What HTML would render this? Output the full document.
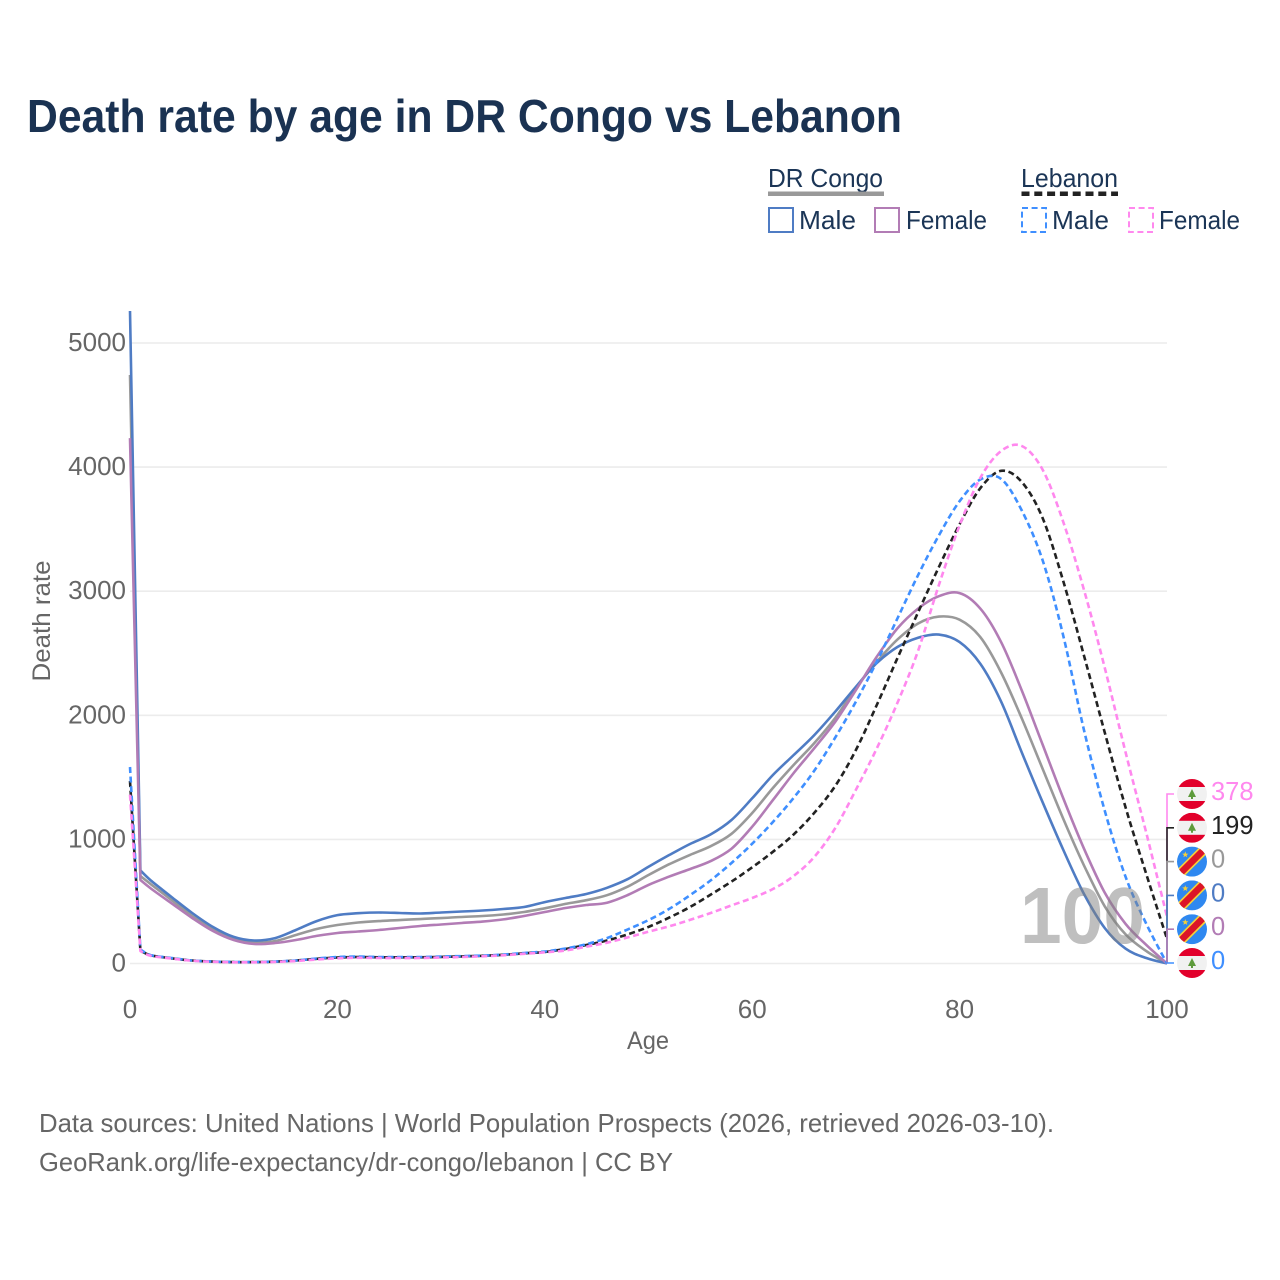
<!DOCTYPE html>
<html lang="en">
<head>
<meta charset="utf-8">
<title>Death rate by age in DR Congo vs Lebanon</title>
<style>
html,body{margin:0;padding:0;background:#fff;}
svg{display:block;font-family:"Liberation Sans",Arial,sans-serif;}
</style>
</head>
<body>
<svg id="chart" xmlns="http://www.w3.org/2000/svg" width="1280" height="1280" viewBox="0 0 1280 1280">
  <defs>
    <clipPath id="flag-clip"><circle cx="0" cy="0" r="15"/></clipPath>
    <g id="flag-lebanon" clip-path="url(#flag-clip)">
      <rect x="-15" y="-15" width="30" height="30" fill="#f1f1f1"/>
      <rect x="-15" y="-15" width="30" height="8" fill="#e2002b"/>
      <rect x="-15" y="7" width="30" height="8" fill="#e2002b"/>
      <path d="M0,-5 L4,3 L1,3 L1,5 L-1,5 L-1,3 L-4,3 Z" fill="#5e9b3c"/>
    </g>
    <g id="flag-congo" clip-path="url(#flag-clip)">
      <rect x="-15" y="-15" width="30" height="30" fill="#2f88f0"/>
      <path d="M-20,13 L13,-20 L20,-13 L-13,20 Z" fill="#f7d038"/>
      <path d="M-18,13.3 L13.3,-18 L18,-13.3 L-13.3,18 Z" fill="#dc1528"/>
      <path d="M-6.7,-10.2 L-5.9,-8 L-3.6,-7.9 L-5.4,-6.5 L-4.8,-4.3 L-6.7,-5.6 L-8.6,-4.3 L-8,-6.5 L-9.8,-7.9 L-7.5,-8 Z" fill="#f7d038"/>
    </g>
  </defs>

  <text x="27" y="132" font-size="46" font-weight="700" fill="#1a3252" textLength="875" lengthAdjust="spacingAndGlyphs">Death rate by age in DR Congo vs Lebanon</text>

  <g font-size="26" fill="#1b3556">
    <text x="768" y="187" textLength="115" lengthAdjust="spacingAndGlyphs">DR Congo</text>
    <rect x="768" y="191.5" width="116" height="4.5" fill="#999"/>
    <text x="1021" y="187" textLength="97" lengthAdjust="spacingAndGlyphs">Lebanon</text>
    <line x1="1021.5" y1="193.7" x2="1118" y2="193.7" stroke="#222" stroke-width="4.5" stroke-dasharray="8,4.8"/>

    <rect x="769" y="208" width="24" height="24" fill="none" stroke="#4f7cc4" stroke-width="2"/>
    <text x="799" y="229" textLength="57" lengthAdjust="spacingAndGlyphs">Male</text>
    <rect x="875" y="208" width="24" height="24" fill="none" stroke="#b27cb5" stroke-width="2"/>
    <text x="906" y="229" textLength="81" lengthAdjust="spacingAndGlyphs">Female</text>
    <rect x="1022" y="208" width="24" height="24" fill="none" stroke="#3f8fff" stroke-width="2" stroke-dasharray="6,3.6"/>
    <text x="1052" y="229" textLength="57" lengthAdjust="spacingAndGlyphs">Male</text>
    <rect x="1129" y="208" width="24" height="24" fill="none" stroke="#ff88ee" stroke-width="2" stroke-dasharray="6,3.6"/>
    <text x="1159" y="229" textLength="81" lengthAdjust="spacingAndGlyphs">Female</text>
  </g>

  <g id="grid"></g>
  <g id="y-axis"></g>
  <g id="x-axis"></g>
  <g id="series"></g>
  <g id="end-labels"></g>

  <text x="648" y="1049" font-size="25" fill="#666" text-anchor="middle" textLength="42" lengthAdjust="spacingAndGlyphs">Age</text>
  <text transform="translate(50,621) rotate(-90)" font-size="25" fill="#666" text-anchor="middle" textLength="121" lengthAdjust="spacingAndGlyphs">Death rate</text>

  <text x="1020" y="943" font-size="80" font-weight="700" fill="#808080" fill-opacity="0.5" textLength="125" lengthAdjust="spacingAndGlyphs">100</text>

  <text x="39" y="1132" font-size="26" fill="#666" textLength="1015" lengthAdjust="spacingAndGlyphs">Data sources: United Nations | World Population Prospects (2026, retrieved 2026-03-10).</text>
  <text x="39" y="1171" font-size="26" fill="#666" textLength="634" lengthAdjust="spacingAndGlyphs">GeoRank.org/life-expectancy/dr-congo/lebanon | CC BY</text>
</svg>

<script>
const ages = [0,1,2,4,6,8,10,12,14,16,18,20,22,24,26,28,30,32,34,36,38,40,42,44,46,48,50,52,54,56,58,60,62,64,66,68,70,72,74,76,78,80,82,84,86,88,90,92,94,96,98,100];

const congoBoth = [4742,705,640,512,383,278,205,169,181,230,278,310,330,342,350,358,366,375,383,395,415,445,480,510,550,620,713,800,875,945,1045,1213,1414,1600,1777,1978,2220,2430,2610,2740,2795,2770,2630,2345,1975,1570,1165,790,460,235,100,0];
const congoMale = [5258,750,670,536,407,294,214,185,205,270,342,390,405,411,407,403,411,419,427,439,455,495,528,560,610,680,780,874,963,1040,1156,1331,1519,1680,1841,2029,2230,2420,2550,2625,2650,2590,2415,2110,1700,1300,915,560,285,120,44,0];
const congoFemale = [4234,673,605,485,367,262,189,157,165,189,222,246,258,270,286,302,314,326,338,355,383,415,447,471,490,552,633,700,761,825,925,1102,1317,1535,1736,1948,2204,2470,2700,2860,2960,2985,2860,2590,2200,1765,1330,925,570,320,150,0];
const lebanonBoth = [1470,105,66,42,24,15,11,11,15,24,38,48,52,50,50,50,53,57,62,70,82,93,117,149,185,235,295,370,455,555,660,775,900,1040,1215,1430,1720,2080,2460,2830,3195,3540,3830,3970,3880,3590,3080,2480,1860,1260,720,199];
const lebanonMale = [1583,113,68,44,24,16,12,12,16,24,40,52,56,52,52,52,56,60,64,72,85,97,121,155,205,275,350,440,550,670,810,965,1140,1335,1555,1820,2110,2430,2780,3130,3450,3725,3900,3905,3650,3250,2640,1880,1230,700,320,0];
const lebanonFemale = [1360,100,62,40,22,14,10,10,13,20,32,42,46,44,44,44,48,52,58,66,78,90,105,135,168,210,256,300,351,407,468,528,600,705,860,1090,1400,1730,2100,2520,3050,3530,3913,4130,4170,3980,3557,3010,2381,1704,1052,378];

const xTicks = [0,20,40,60,80,100];
const yTicks = [0,1000,2000,3000,4000,5000];
const endLabelOrder = ['lebanonFemale','lebanonBoth','congoBoth','congoMale','congoFemale','lebanonMale'];

const NS = 'http://www.w3.org/2000/svg';
const x = age => 130 + age * 10.37;
const y = value => 963.5 - value * 0.1241;

function make(tag, attrs, parent, text) {
  const el = document.createElementNS(NS, tag);
  for (const k in attrs) el.setAttribute(k, attrs[k]);
  if (text !== undefined) el.textContent = text;
  parent.appendChild(el);
  return el;
}

const gridG = document.getElementById('grid');
const yAxisG = document.getElementById('y-axis');
const xAxisG = document.getElementById('x-axis');
const seriesG = document.getElementById('series');
const endG = document.getElementById('end-labels');

yTicks.forEach(v => {
  const line = make('line', {x1: x(0), x2: x(100), y1: y(v), y2: y(v), stroke: '#ececec', 'stroke-width': 1.6}, gridG);
  
  
  const label = make('text', {x: 126, y: y(v) + 8, 'font-size': 26, fill: '#666', 'text-anchor': 'end'}, yAxisG, String(v));
  
  
});

xTicks.forEach(a => {
  const label = make('text', {x: x(a), y: 1018, 'font-size': 26, fill: '#666', 'text-anchor': 'middle'}, xAxisG, String(a));
  
  
});

function pathFor(values) {
  const pts = values.map((v, i) => [x(ages[i]), y(v)]);
  let d = 'M' + pts[0][0].toFixed(1) + ',' + pts[0][1].toFixed(1) + ' L' + pts[1][0].toFixed(1) + ',' + pts[1][1].toFixed(1);
  for (let i = 1; i < pts.length - 1; i++) {
    const p0 = pts[Math.max(1, i - 1)], p1 = pts[i], p2 = pts[i + 1], p3 = pts[Math.min(pts.length - 1, i + 2)];
    const c1 = [p1[0] + (p2[0] - p0[0]) / 6, p1[1] + (p2[1] - p0[1]) / 6];
    const c2 = [p2[0] - (p3[0] - p1[0]) / 6, p2[1] - (p3[1] - p1[1]) / 6];
    d += ' C' + c1[0].toFixed(1) + ',' + c1[1].toFixed(1) + ' ' + c2[0].toFixed(1) + ',' + c2[1].toFixed(1) + ' ' + p2[0].toFixed(1) + ',' + p2[1].toFixed(1);
  }
  return d;
}

const seriesInfo = {
  congoBoth: {values: congoBoth, color: '#999999', text: '#999999', dash: null, flag: '#flag-congo'},
  congoMale: {values: congoMale, color: '#4f7cc4', text: '#4f7cc4', dash: null, flag: '#flag-congo'},
  congoFemale: {values: congoFemale, color: '#b27cb5', text: '#b27cb5', dash: null, flag: '#flag-congo'},
  lebanonBoth: {values: lebanonBoth, color: '#222222', text: '#222222', dash: '6,3.6', flag: '#flag-lebanon'},
  lebanonMale: {values: lebanonMale, color: '#3f8fff', text: '#3f8fff', dash: '6,3.6', flag: '#flag-lebanon'},
  lebanonFemale: {values: lebanonFemale, color: '#ff88ee', text: '#ff88ee', dash: '6,3.6', flag: '#flag-lebanon'}
};

['congoBoth','congoMale','congoFemale','lebanonBoth','lebanonMale','lebanonFemale'].forEach(key => {
  const s = seriesInfo[key];
  const p = make('path', {d: pathFor(s.values), fill: 'none', stroke: s.color, 'stroke-width': 2.6, 'stroke-linejoin': 'round'}, seriesG);
  if (s.dash) p.setAttribute('stroke-dasharray', s.dash);
  
  
});

const lastAge = ages[ages.length - 1];
endLabelOrder.forEach((key, i) => {
  const s = seriesInfo[key];
  const last = s.values[s.values.length - 1];
  const slotY = y(0) - 0.5 - (endLabelOrder.length - 1 - i) * 33.8;
  const bracket = make('path', {d: 'M' + x(lastAge) + ',' + y(last) + ' L' + x(lastAge) + ',' + slotY + ' L' + (x(lastAge) + 7) + ',' + slotY, fill: 'none', stroke: s.color, 'stroke-width': 1.6}, endG);
  
  
  const flag = make('use', {href: s.flag, transform: 'translate(1192,' + slotY + ')'}, endG);
  
  
  const label = make('text', {x: 1211, y: slotY + 6, 'font-size': 25.5, fill: s.text}, endG, String(last));
  
  
});
</script>
</body>
</html>
